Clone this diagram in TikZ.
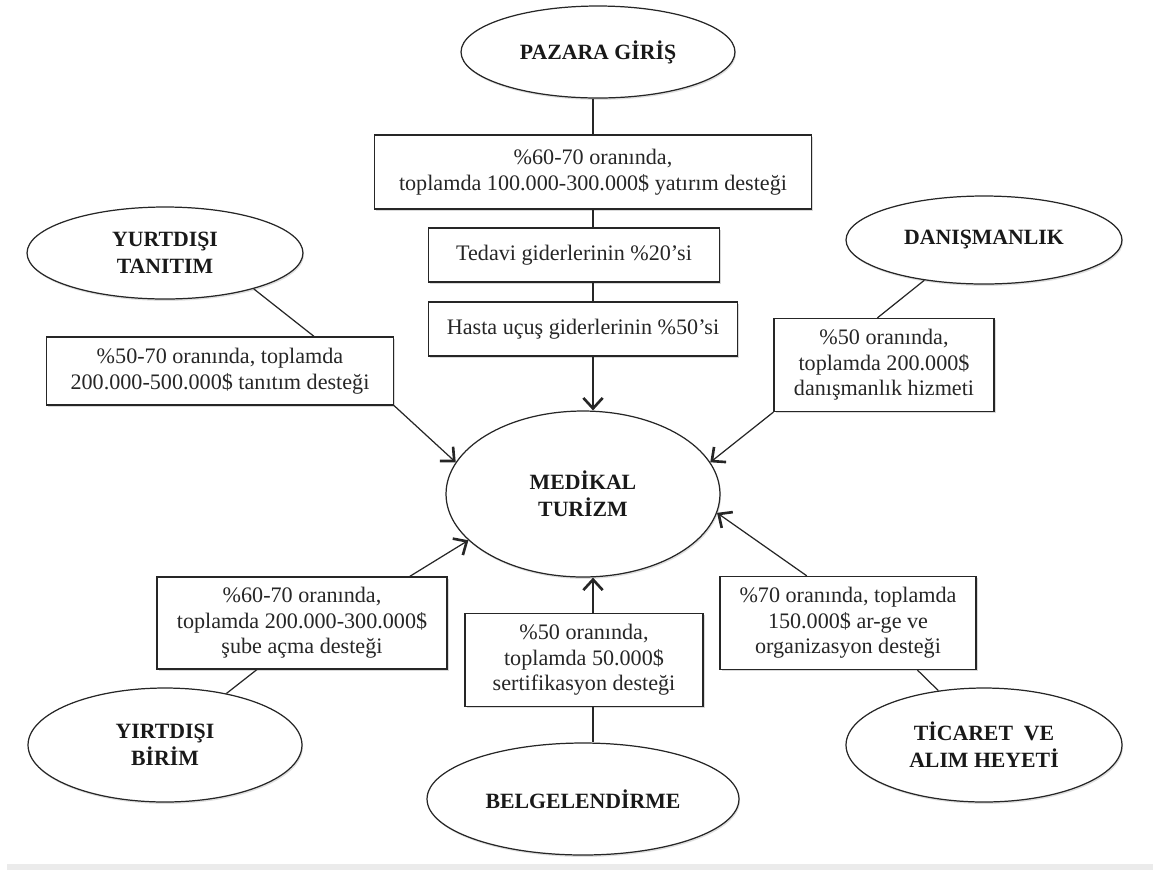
\documentclass[tikz,border=0pt]{standalone}
\usepackage{fontspec}
\setmainfont{Liberation Serif}
\usetikzlibrary{calc, positioning}
\usetikzlibrary{arrows.meta}
\usetikzlibrary{shapes.geometric}
\usetikzlibrary{shadows}

\tikzset{
  hat/.style={line width=0.7pt, black!85},
  ok/.style={-{Straight Barb[length=6pt, width=11pt, line width=1.5pt]}},
  kutu/.style={draw=black!85, line width=0.7pt, fill=white, align=center, inner sep=0pt,
    font=\fontsize{12.6}{14.6}\selectfont, text=black!85,
    drop shadow={shadow xshift=0.9pt, shadow yshift=-1.1pt, opacity=0.3}},
  baslik/.style={draw=black!85, ellipse, line width=0.7pt, fill=white, align=center, inner sep=0pt,
    font=\fontsize{12.4}{15.3}\selectfont\bfseries, text=black!90,
    drop shadow={shadow xshift=0.6pt, shadow yshift=-1.1pt, opacity=0.25}}
}

\begin{document}
\begin{tikzpicture}[x=0.02cm, y=-0.02cm]
\useasboundingbox (0,0) rectangle (1153,870);
\fill[black!8] (7,864) rectangle (1153,870);
\coordinate (axis) at (593,0);

% merkez
\node[baslik, minimum width=5.48cm, minimum height=3.32cm] (medikal) at (583,494) {MEDİKAL\\ TURİZM};

% pazara giris
\node[baslik, minimum width=5.48cm, minimum height=1.84cm] (pazara) at (598,52) {PAZARA GİRİŞ};
\node[kutu, minimum width=8.74cm, minimum height=1.48cm] (yatirim) at (593,172)
  {\%60-70 oranında,\\ toplamda 100.000-300.000\$ yatırım desteği};
\node[kutu, minimum width=5.82cm, minimum height=1.08cm] (tedavi) at (574,255) {Tedavi giderlerinin \%20’si};
\node[kutu, minimum width=6.18cm, minimum height=1.08cm] (hasta) at (583,329) {Hasta uçuş giderlerinin \%50’si};

% sol ust
\node[baslik, minimum width=5.52cm, minimum height=1.84cm] (tanitim) at (165,253) {YURTDIŞI\\ TANITIM};
\node[kutu, minimum width=6.94cm, minimum height=1.36cm] (tanitimbox) at (220,371)
  {\%50-70 oranında, toplamda\\ 200.000-500.000\$ tanıtım desteği};

% sag ust
\node[baslik, minimum width=5.52cm, minimum height=1.76cm] (danis) at (984,240) {DANIŞMANLIK};
\node[kutu, minimum width=4.4cm, minimum height=1.86cm] (danisbox) at (884,365)
  {\%50 oranında,\\ toplamda 200.000\$\\ danışmanlık hizmeti};

% sol alt
\node[kutu, minimum width=5.8cm, minimum height=1.84cm] (subebox) at (302,623)
  {\%60-70 oranında,\\ toplamda 200.000-300.000\$\\ şube açma desteği};
\node[baslik, minimum width=5.48cm, minimum height=2.28cm] (birim) at (165,745) {YIRTDIŞI\\ BİRİM};

% alt
\node[kutu, minimum width=4.76cm, minimum height=1.86cm] (sertbox) at (584,660)
  {\%50 oranında,\\ toplamda 50.000\$\\ sertifikasyon desteği};
\node[baslik, minimum width=6.24cm, minimum height=2.24cm] (belge) at (583,799) {BELGELENDİRME};

% sag alt
\node[kutu, minimum width=5.12cm, minimum height=1.86cm] (argebox) at (848,623)
  {\%70 oranında, toplamda\\ 150.000\$ ar-ge ve\\ organizasyon desteği};
\node[baslik, minimum width=5.52cm, minimum height=2.28cm] (ticaret) at (984,745) {TİCARET\ \ VE\\ ALIM HEYETİ};

% baglantilar
\draw[hat] (pazara.south -| axis) -- (yatirim.north -| axis);
\draw[hat] (yatirim.south -| axis) -- (tedavi.north -| axis);
\draw[hat] (tedavi.south -| axis) -- (hasta.north -| axis);
\draw[hat, ok] (hasta.south -| axis) -- (medikal.north -| axis);

\draw[hat] (tanitim.-22) -- ($(tanitimbox.north west)!.77!(tanitimbox.north east)$);
\draw[hat, ok] (tanitimbox.south east) -- (medikal.166);

\draw[hat] (danis.-146) -- ($(danisbox.north west)!.47!(danisbox.north east)$);
\draw[hat, ok] (danisbox.south west) -- (medikal.14);

\draw[hat] ($(subebox.south west)!.345!(subebox.south east)$) -- (birim.40);
\draw[hat, ok] ($(subebox.north west)!.87!(subebox.north east)$) -- (medikal.-158);

\draw[hat] (belge.north -| axis) -- (sertbox.south -| axis);
\draw[hat, ok] (sertbox.north -| axis) -- (medikal.south -| axis);

\draw[hat, ok] ($(argebox.north west)!.34!(argebox.north east)$) -- (medikal.-8);
\draw[hat] ($(argebox.south west)!.77!(argebox.south east)$) -- (ticaret.130);
\end{tikzpicture}
\end{document}
